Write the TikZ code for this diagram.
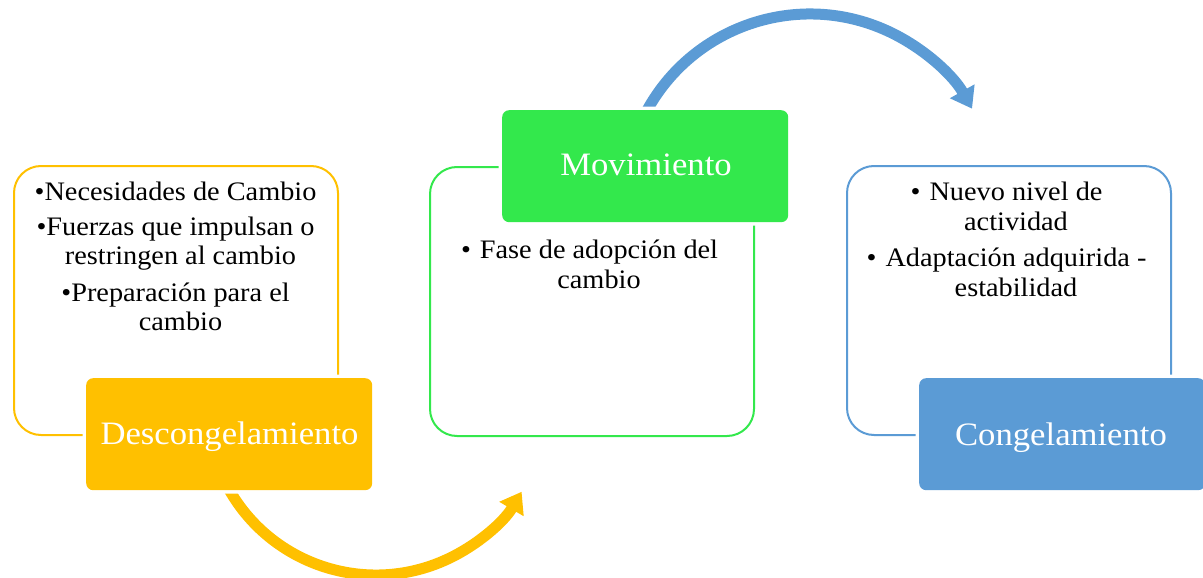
\documentclass[tikz,border=0pt]{standalone}
\usepackage{fontspec}
\setmainfont[FakeStretch=1.06]{Liberation Serif}
\usetikzlibrary{arrows.meta}
\definecolor{cyel}{HTML}{FFC000}
\definecolor{cgrn}{HTML}{33E84C}
\definecolor{cblu}{HTML}{5B9BD5}
\begin{document}
\begin{tikzpicture}[x=1pt,y=-1pt,
  outerbox/.style={draw=#1, line width=2pt, rounded corners=27pt, inner sep=0pt,
    minimum width=324pt, minimum height=269pt, anchor=north west},
  labelbox/.style={fill=#1, rounded corners=7pt, inner sep=0pt,
    minimum width=286pt, minimum height=112pt, anchor=north west,
    preaction={draw=white, line width=7pt}},
  bodytxt/.style={font=\fontsize{26.7pt}{30pt}\selectfont, anchor=base, inner sep=0pt},
  labeltxt/.style={font=\fontsize{32.7pt}{36pt}\selectfont, text=white, anchor=base, inner sep=0pt},
  bigarrow/.style={draw=#1, line width=11pt, -{Triangle[width=27pt,length=20pt]}}
]
\useasboundingbox (0,0) rectangle (1203,578);

% outer boxes
\node[outerbox=cyel] (b1) at (13,165) {};
\node[outerbox=cgrn] (b2) at (429,166) {};
\node[outerbox=cblu] (b3) at (846,165) {};

% curved arrows (drawn before label boxes so the boxes hide their start)
\coordinate (yc) at (376,406);
\coordinate (bc) at (810,200);
\draw[bigarrow=cyel] ([shift={(205:169pt)}]yc) arc[start angle=205, end angle=329.5, radius=169pt];
\draw[bigarrow=cblu] ([shift={(154:186pt)}]bc) arc[start angle=154, end angle=29.4, radius=186pt];

% label boxes
\node[labelbox=cyel] (d) at (86,378) {};
\node[labelbox=cgrn] (m) at (502,110) {};
\node[labelbox=cblu] (c) at (919,378) {};

\node[labeltxt] (dt) at (229.5,444) {Descongelamiento};
\node[labeltxt] (mt) at (646,175) {Movimiento};
\node[labeltxt] (ct) at (1061,445) {Congelamiento};

% left texts
\node[bodytxt] (l1) at (180.5,200.7) {\llap{•}Necesidades de Cambio};
\node[bodytxt] (l2) at (180.5,235) {\llap{•}Fuerzas que impulsan o};
\node[bodytxt] (l3) at (180.5,264) {restringen al cambio};
\node[bodytxt] (l4) at (180.5,301.5) {\llap{•}Preparación para el};
\node[bodytxt] (l5) at (180.5,330.7) {cambio};

% middle texts
\node[bodytxt] (m1) at (599,258) {\llap{•\hspace{9pt}}Fase de adopción del};
\node[bodytxt] (m2) at (599,288) {cambio};

% right texts
\node[bodytxt] (r1) at (1016,200.7) {\llap{•\hspace{9pt}}Nuevo nivel de};
\node[bodytxt] (r2) at (1016,230.7) {actividad};
\node[bodytxt] (r3) at (1016,266) {\llap{•\hspace{9pt}}Adaptación adquirida -};
\node[bodytxt] (r4) at (1016,296) {estabilidad};
\end{tikzpicture}
\end{document}
